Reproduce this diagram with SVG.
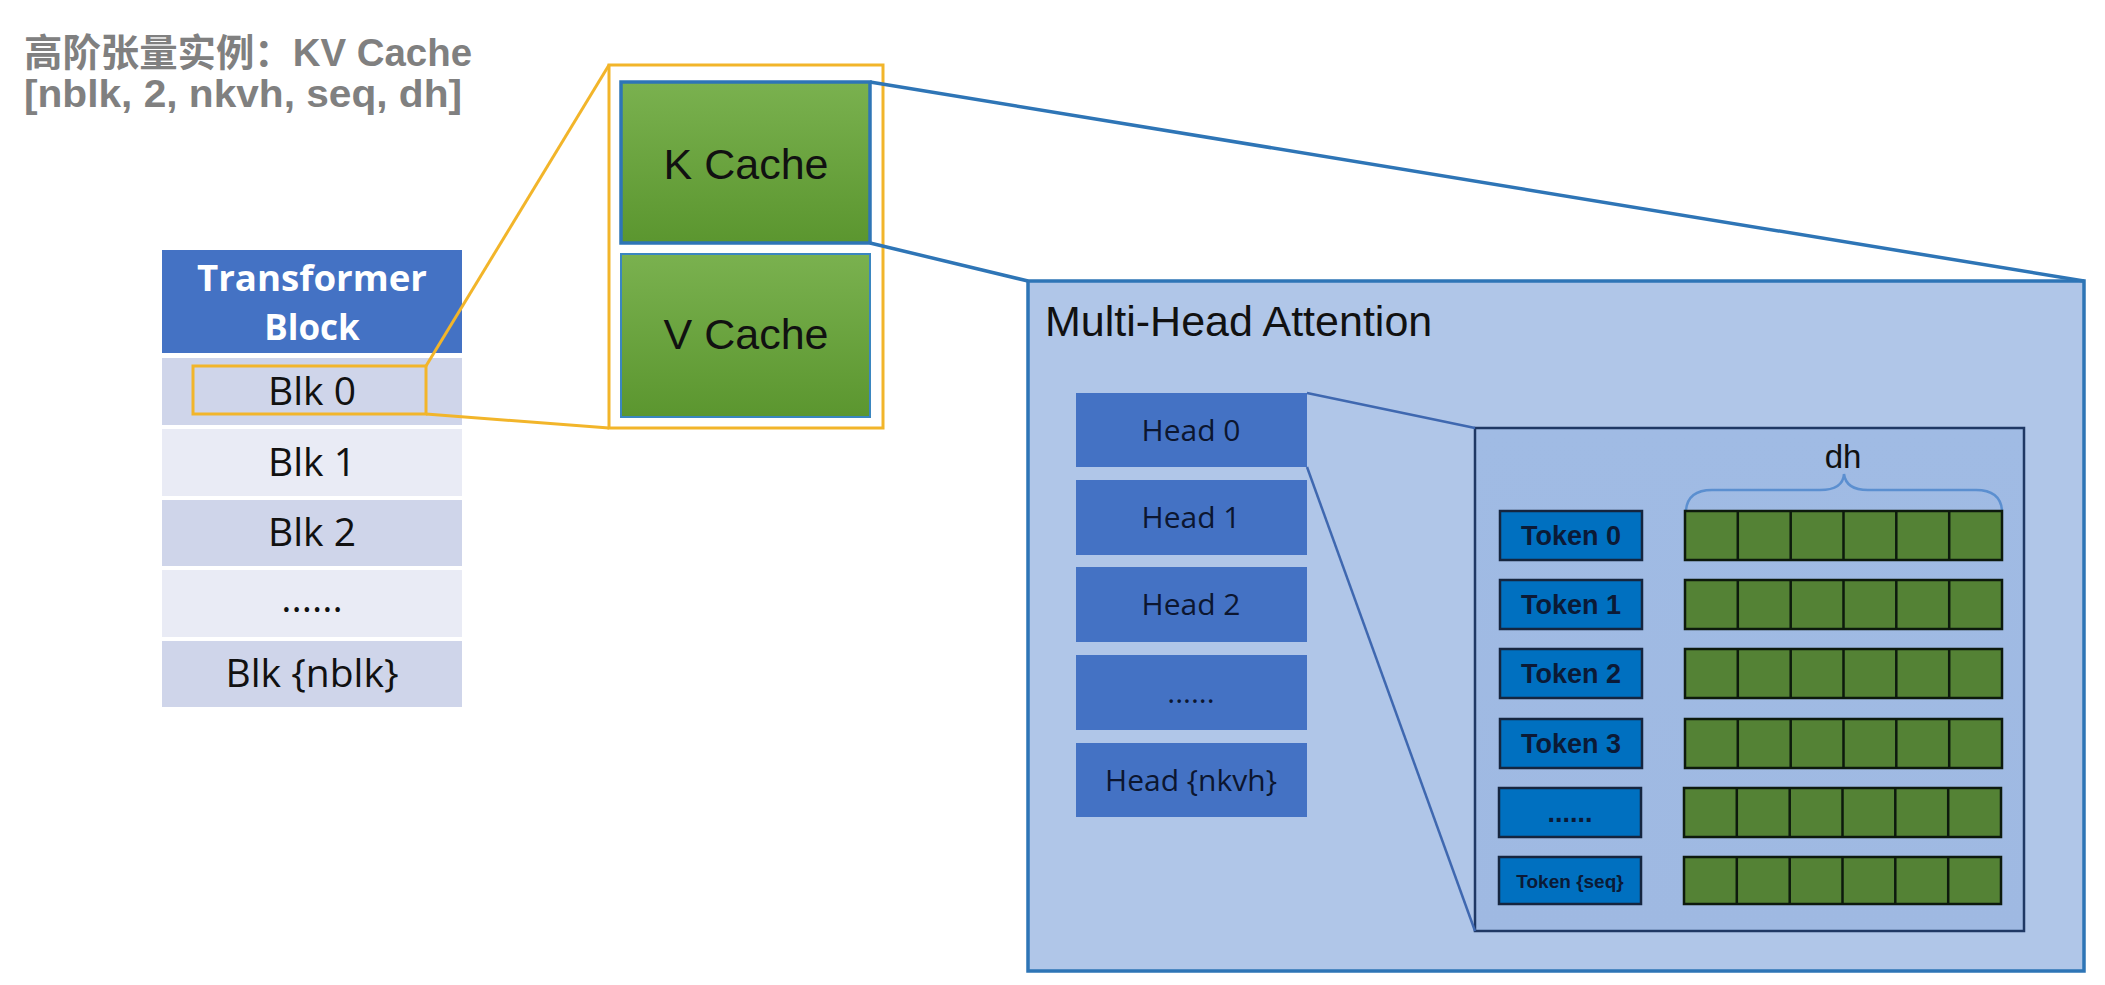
<svg xmlns="http://www.w3.org/2000/svg" width="2105" height="985" viewBox="0 0 2105 985">
<style>
.title{font-family:"Liberation Sans","Noto Sans CJK SC",sans-serif;font-weight:bold;font-size:38px;fill:#808080}
.hdr{font-family:"Open Sans","Noto Sans",sans-serif;font-weight:bold;font-size:35px;fill:#ffffff}
.blk{font-family:"Open Sans","Noto Sans",sans-serif;font-size:39px;fill:#111111}
.cache{font-family:"Liberation Sans",Arial,sans-serif;font-size:43px;fill:#111111}
.mha{font-family:"Liberation Sans",Arial,sans-serif;font-size:43px;fill:#111111}
.head{font-family:"Open Sans","Noto Sans",sans-serif;font-size:30px;fill:#0c1630}
.tok{font-family:"Liberation Sans",Arial,sans-serif;font-weight:bold;font-size:27px;fill:#0b1a36}
.dh{font-family:"Liberation Sans",Arial,sans-serif;font-size:33px;fill:#111111}
.band1{fill:#CFD5EA}
.band2{fill:#E9EBF5}
.headbox{fill:#4472C4}
.tokbox{fill:#0070C0;stroke:#15253f;stroke-width:2.5}
.cell{fill:#548235;stroke:#0d1a0d;stroke-width:2.5}
.yline{stroke:#F2B52A;stroke-width:3;fill:none}
.bline{stroke:#2E75B6;stroke-width:3.5;fill:none}
.hline{stroke:#3F68B0;stroke-width:2.5;fill:none}
</style>
<defs>
<linearGradient id="green" x1="0" y1="0" x2="0" y2="1">
<stop offset="0" stop-color="#7AB14F"/>
<stop offset="1" stop-color="#5B962F"/>
</linearGradient>
<linearGradient id="inner" x1="0" y1="0" x2="0" y2="1">
<stop offset="0" stop-color="#A0BBE4"/>
<stop offset="1" stop-color="#9FB9E2"/>
</linearGradient>
</defs>
<rect x="0" y="0" width="2105" height="985" fill="#ffffff"/>

<g id="title">
<text class="title" x="24" y="66" textLength="448" lengthAdjust="spacingAndGlyphs">高阶张量实例：KV Cache</text>
<text class="title" x="24" y="107" textLength="438" lengthAdjust="spacingAndGlyphs">[nblk, 2, nkvh, seq, dh]</text>
</g>

<g id="transformer-block">
<rect class="headbox" x="162" y="250" width="300" height="103"/>
<text class="hdr" x="312" y="291" text-anchor="middle" textLength="230" lengthAdjust="spacingAndGlyphs">Transformer</text>
<text class="hdr" x="312" y="340" text-anchor="middle">Block</text>
<rect class="band1" x="162" y="358" width="300" height="67"/>
<rect class="band2" x="162" y="429" width="300" height="67"/>
<rect class="band1" x="162" y="500" width="300" height="66"/>
<rect class="band2" x="162" y="570" width="300" height="67"/>
<rect class="band1" x="162" y="641" width="300" height="66"/>
<text class="blk" x="312" y="405" text-anchor="middle">Blk 0</text>
<text class="blk" x="312" y="476" text-anchor="middle">Blk 1</text>
<text class="blk" x="312" y="546" text-anchor="middle">Blk 2</text>
<text class="blk" x="312" y="612" text-anchor="middle">......</text>
<text class="blk" x="312" y="687" text-anchor="middle">Blk {nblk}</text>
<rect x="193" y="366" width="233" height="48" fill="none" stroke="#F2B52A" stroke-width="3"/>
</g>

<g id="kv-cache">
<rect x="609" y="65" width="274" height="363" fill="none" stroke="#F2B52A" stroke-width="3"/>
<rect x="621" y="82" width="249" height="161" fill="url(#green)" stroke="#2E75B6" stroke-width="3.5"/>
<text class="cache" x="746" y="179" text-anchor="middle">K Cache</text>
<rect x="621" y="254" width="249" height="163" fill="url(#green)" stroke="#3A86C0" stroke-width="2"/>
<text class="cache" x="746" y="349" text-anchor="middle">V Cache</text>
</g>

<g id="multi-head-attention">
<rect x="1028" y="281" width="1056" height="690" fill="#B0C6E8" stroke="#2E75B6" stroke-width="3.5"/>
<text class="mha" x="1045" y="336">Multi-Head Attention</text>
</g>

<g id="heads">
<rect class="headbox" x="1076" y="393" width="231" height="74"/>
<text class="head" x="1191" y="441" text-anchor="middle">Head 0</text>
<rect class="headbox" x="1076" y="480" width="231" height="75"/>
<text class="head" x="1191" y="528" text-anchor="middle">Head 1</text>
<rect class="headbox" x="1076" y="567" width="231" height="75"/>
<text class="head" x="1191" y="615" text-anchor="middle">Head 2</text>
<rect class="headbox" x="1076" y="655" width="231" height="75"/>
<text class="head" x="1191" y="703" text-anchor="middle">......</text>
<rect class="headbox" x="1076" y="743" width="231" height="74"/>
<text class="head" x="1191" y="791" text-anchor="middle">Head {nkvh}</text>
</g>

<g id="head-detail">
<rect x="1475" y="428" width="549" height="503" fill="url(#inner)" stroke="#1F3864" stroke-width="2.5"/>
<path d="M1686 510 Q1688 490 1712 490 L1820 490 Q1843 490 1844 474 Q1846 490 1868 490 L1976 490 Q2000 490 2002 510" fill="none" stroke="#5B8FD0" stroke-width="2.5"/>
<text class="dh" x="1843" y="468" text-anchor="middle">dh</text>
</g>

<g id="tokens">
<rect class="tokbox" x="1500" y="511" width="142" height="49"/>
<text class="tok" x="1571" y="545" text-anchor="middle">Token 0</text>
<rect class="tokbox" x="1500" y="580" width="142" height="49"/>
<text class="tok" x="1571" y="614" text-anchor="middle">Token 1</text>
<rect class="tokbox" x="1500" y="649" width="142" height="49"/>
<text class="tok" x="1571" y="683" text-anchor="middle">Token 2</text>
<rect class="tokbox" x="1500" y="719" width="142" height="49"/>
<text class="tok" x="1571" y="753" text-anchor="middle">Token 3</text>
<rect class="tokbox" x="1499" y="788" width="142" height="49"/>
<text class="tok" x="1570" y="822" text-anchor="middle">......</text>
<rect class="tokbox" x="1499" y="857" width="142" height="47"/>
<text class="tok" x="1570" y="888" text-anchor="middle" style="font-size:19px">Token {seq}</text>
</g>

<g id="vectors">
<g transform="translate(1685,511)">
<rect class="cell" x="0" y="0" width="317" height="49"/>
<path class="cell" d="M52.8 0V49M105.7 0V49M158.5 0V49M211.3 0V49M264.2 0V49"/>
</g>
<g transform="translate(1685,580)">
<rect class="cell" x="0" y="0" width="317" height="49"/>
<path class="cell" d="M52.8 0V49M105.7 0V49M158.5 0V49M211.3 0V49M264.2 0V49"/>
</g>
<g transform="translate(1685,649)">
<rect class="cell" x="0" y="0" width="317" height="49"/>
<path class="cell" d="M52.8 0V49M105.7 0V49M158.5 0V49M211.3 0V49M264.2 0V49"/>
</g>
<g transform="translate(1685,719)">
<rect class="cell" x="0" y="0" width="317" height="49"/>
<path class="cell" d="M52.8 0V49M105.7 0V49M158.5 0V49M211.3 0V49M264.2 0V49"/>
</g>
<g transform="translate(1684,788)">
<rect class="cell" x="0" y="0" width="317" height="49"/>
<path class="cell" d="M52.8 0V49M105.7 0V49M158.5 0V49M211.3 0V49M264.2 0V49"/>
</g>
<g transform="translate(1684,857)">
<rect class="cell" x="0" y="0" width="317" height="47"/>
<path class="cell" d="M52.8 0V47M105.7 0V47M158.5 0V47M211.3 0V47M264.2 0V47"/>
</g>
</g>

<g id="connectors">
<line class="yline" x1="426" y1="366" x2="609" y2="65"/>
<line class="yline" x1="426" y1="414" x2="609" y2="428"/>
<line class="bline" x1="870" y1="82" x2="2084" y2="281"/>
<line class="bline" x1="870" y1="243" x2="1028" y2="281"/>
<line class="hline" x1="1307" y1="393" x2="1475" y2="428"/>
<line class="hline" x1="1307" y1="467" x2="1475" y2="931"/>
</g>
</svg>
